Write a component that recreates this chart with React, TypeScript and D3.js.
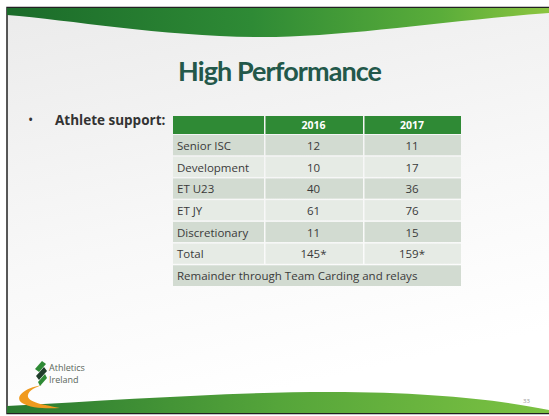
import React from 'react';
import * as d3 from 'd3';

const width = 549;
const height = 416;

// table content
const title = 'High Performance';
const bulletText = 'Athlete support:';
const headers = ['', '2016', '2017'];
const categories = ['Senior ISC', 'Development', 'ET U23', 'ET JY', 'Discretionary', 'Total'];
const values2016 = ['12', '10', '40', '61', '11', '145*'];
const values2017 = ['11', '17', '36', '76', '15', '159*'];
const footnote = 'Remainder through Team Carding and relays';
const pageNumber = '33';

const titleFont = 'Lato, "Open Sans", sans-serif';
const font = '"Open Sans", Lato, sans-serif';

function App() {
  const rowKeys = [...categories, 'footnote'];
  const y = d3.scaleBand<string>().domain(rowKeys).range([135, 287]);
  const headerTop = 116;
  // column edges, piecewise
  const colEdge = d3.scaleLinear().domain([0, 1, 2, 3]).range([173, 264, 363, 461]);
  const cellX = (j: number) => colEdge(j) + (j > 0 ? 1.5 : 0);
  const cellW = (j: number) => colEdge(j + 1) - colEdge(j) - (j > 0 ? 1.5 : 0);

  const topBand = d3.path();
  topBand.moveTo(7, 8);
  topBand.lineTo(width, 8);
  topBand.lineTo(width, 13);
  topBand.bezierCurveTo(450, 20, 340, 38, 255, 37);
  topBand.bezierCurveTo(160, 36, 70, 20, 7, 15);
  topBand.closePath();

  const bottomBand = d3.path();
  bottomBand.moveTo(7, 406);
  bottomBand.bezierCurveTo(120, 400, 230, 392, 330, 392);
  bottomBand.bezierCurveTo(430, 392, 500, 400, width, 410);
  bottomBand.lineTo(width, 413);
  bottomBand.lineTo(7, 413);
  bottomBand.closePath();

  const swoosh = d3.path();
  swoosh.moveTo(42, 385);
  swoosh.bezierCurveTo(24, 388, 14, 397, 22, 403);
  swoosh.bezierCurveTo(30, 408, 46, 409, 60, 408);
  swoosh.bezierCurveTo(46, 405, 30, 403, 28, 397);
  swoosh.bezierCurveTo(27, 392, 33, 388, 42, 385);
  swoosh.closePath();

  const cellFill = (i: number) => (i % 2 === 0 ? '#d2dbd1' : '#e6ebe5');

  return (
    <svg width={width} height={height} style={{ position: 'absolute', left: 0, top: 0 }}>
      <defs>
        <linearGradient id="bg" x1="0" y1="0" x2="0.3" y2="1">
          <stop offset="0" stopColor="#ebebeb" />
          <stop offset="0.6" stopColor="#f8f8f8" />
          <stop offset="1" stopColor="#ffffff" />
        </linearGradient>
        <linearGradient id="topg" x1="0" y1="0" x2="1" y2="0">
          <stop offset="0" stopColor="#1b6b2a" />
          <stop offset="0.45" stopColor="#2e8a35" />
          <stop offset="0.8" stopColor="#5aad3a" />
          <stop offset="1" stopColor="#8cc540" />
        </linearGradient>
        <linearGradient id="botg" x1="0" y1="0" x2="1" y2="0">
          <stop offset="0" stopColor="#2a7a30" />
          <stop offset="0.5" stopColor="#55a53a" />
          <stop offset="1" stopColor="#7cc242" />
        </linearGradient>
      </defs>
      <rect x={0} y={0} width={width} height={height} fill="#ffffff" />
      <rect x={7} y={7.5} width={width} height={406} fill="url(#bg)" stroke="#222" strokeWidth={1.5} />
      <path d={topBand.toString()} fill="url(#topg)" />
      <path d={bottomBand.toString()} fill="url(#botg)" />

      <text x={280} y={81} textAnchor="middle" fontFamily={titleFont} fontWeight={700} fontSize={27}
        fill="#23584a" textLength={204}>{title}</text>

      <text x={28} y={125} fontFamily={font} fontSize={14} fill="#333">•</text>
      <text x={55} y={125} fontFamily={font} fontWeight={700} fontSize={13.5} fill="#333">{bulletText}</text>

      <g>
        {headers.map((h, j) => (
          <g key={'h' + j}>
            <rect x={cellX(j)} y={headerTop} width={cellW(j)} height={y.range()[0] - headerTop - 1} fill="#2f8a35" />
            <text x={(colEdge(j) + colEdge(j + 1)) / 2} y={headerTop + 13}
              textAnchor="middle" fontFamily={font} fontWeight={700} fontSize={10.5} fill="#ffffff">{h}</text>
          </g>
        ))}
        {categories.map((c, i) => {
          const row = [c, values2016[i], values2017[i]];
          const top = y(c)!;
          return (
            <g key={c}>
              {row.map((v, j) => (
                <g key={j}>
                  <rect x={cellX(j)} y={top} width={cellW(j)} height={y.bandwidth() - 1.5} fill={cellFill(i)} />
                  <text x={j === 0 ? colEdge(0) + 4 : (colEdge(j) + colEdge(j + 1)) / 2}
                    y={top + y.bandwidth() / 2 + 4} textAnchor={j === 0 ? 'start' : 'middle'}
                    fontFamily={font} fontSize={11.5} fill="#3a3a3a">{v}</text>
                </g>
              ))}
            </g>
          );
        })}
        <rect x={colEdge(0)} y={y('footnote')!} width={colEdge(3) - colEdge(0)} height={y.bandwidth() - 1}
          fill={cellFill(categories.length)} />
        <text x={colEdge(0) + 4} y={y('footnote')! + y.bandwidth() / 2 + 4} fontFamily={font} fontSize={11.5}
          fill="#3a3a3a">{footnote}</text>
      </g>

      {/* logo */}
      <path d={swoosh.toString()} fill="#f09a1e" />
      <path d="M42,361 L46,364 L39,372 L35,369 Z" fill="#2e8a35" />
      <path d="M44,367 L47,371 L39,380 L36,376 Z" fill="#1f3d2a" />
      <path d="M45,374 L47,378 L40,386 L38,382 Z" fill="#2e8a35" />
      <text x={49} y={371} fontFamily={font} fontSize={9} fill="#5a675a">Athletics</text>
      <text x={49} y={383} fontFamily={font} fontSize={9} fill="#5a675a">Ireland</text>

      <text x={523} y={403} fontFamily={font} fontSize={6} fill="#999">{pageNumber}</text>
    </svg>
  );
}

export default App;
